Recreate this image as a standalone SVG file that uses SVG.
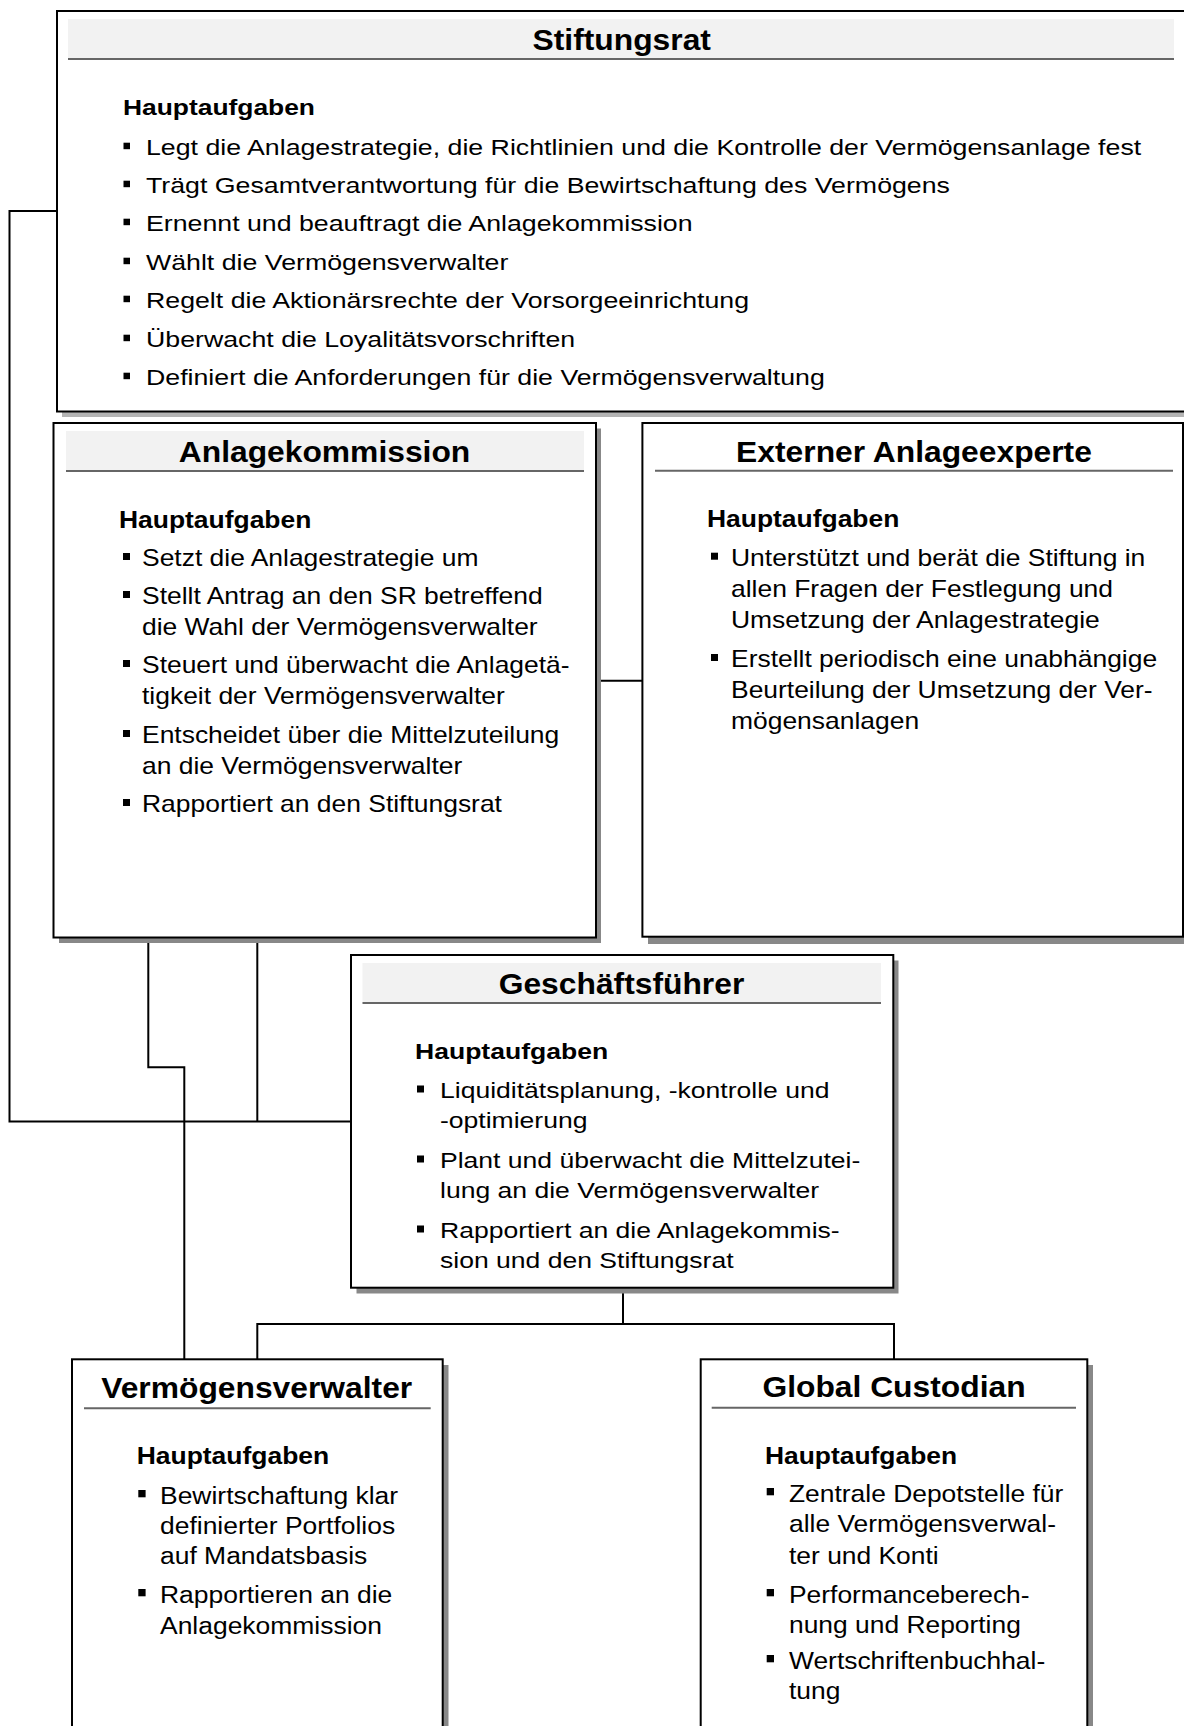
<svg xmlns="http://www.w3.org/2000/svg" width="1184" height="1726" viewBox="0 0 1184 1726">
<style>
text{font-family:"Liberation Sans",Arial,Helvetica,sans-serif;fill:#000}
.box{fill:#fff;stroke:#000;stroke-width:2}
.sh{fill:#888}
.shl{fill:#b4b4b4}
.band{fill:#f2f2f2}
.hl{stroke:#666;stroke-width:2}
.ttl{font-weight:bold;font-size:30px;text-anchor:middle}
.hd{font-weight:bold}
.bl{fill:#000}
.con{fill:none;stroke:#000;stroke-width:2}
</style>
<rect width="1184" height="1726" fill="#fff"/>

<g id="connectors">
<path class="con" d="M57,211 H9.5 V1121.5 H351"/>
<path class="con" d="M148.3,937.5 V1067.3 H184.3 V1359.3"/>
<path class="con" d="M257.3,937.5 V1121.5"/>
<path class="con" d="M596,680.7 H642.4"/>
<path class="con" d="M623,1287.7 V1324"/>
<path class="con" d="M257.3,1359.3 V1324 H894 V1359.3"/>
</g>

<g id="stiftungsrat">
<rect class="shl" x="62" y="412" width="1130" height="5"/>
<rect class="box" x="57" y="11" width="1140" height="400.5"/>
<rect class="band" x="68" y="19" width="1106" height="40"/>
<line class="hl" x1="68" y1="59" x2="1174" y2="59"/>
<text class="ttl" transform="translate(621.7,50) scale(1.06,1)">Stiftungsrat</text>
<g style="font-size:22px">
<text class="hd" transform="translate(123,115) scale(1.2,1)">Hauptaufgaben</text>
<rect class="bl" x="123.5" y="142.7" width="6.5" height="6.5"/>
<text transform="translate(146,155) scale(1.215,1)">Legt die Anlagestrategie, die Richtlinien und die Kontrolle der Vermögensanlage fest</text>
<rect class="bl" x="123.5" y="180.7" width="6.5" height="6.5"/>
<text transform="translate(146,193) scale(1.215,1)">Trägt Gesamtverantwortung für die Bewirtschaftung des Vermögens</text>
<rect class="bl" x="123.5" y="218.7" width="6.5" height="6.5"/>
<text transform="translate(146,231) scale(1.215,1)">Ernennt und beauftragt die Anlagekommission</text>
<rect class="bl" x="123.5" y="257.7" width="6.5" height="6.5"/>
<text transform="translate(146,270) scale(1.215,1)">Wählt die Vermögensverwalter</text>
<rect class="bl" x="123.5" y="295.7" width="6.5" height="6.5"/>
<text transform="translate(146,308) scale(1.215,1)">Regelt die Aktionärsrechte der Vorsorgeeinrichtung</text>
<rect class="bl" x="123.5" y="334.7" width="6.5" height="6.5"/>
<text transform="translate(146,347) scale(1.215,1)">Überwacht die Loyalitätsvorschriften</text>
<rect class="bl" x="123.5" y="372.7" width="6.5" height="6.5"/>
<text transform="translate(146,385) scale(1.215,1)">Definiert die Anforderungen für die Vermögensverwaltung</text>
</g>
</g>

<g id="anlagekommission">
<rect class="sh" x="59" y="428.5" width="542" height="514.5"/>
<rect class="box" x="53.5" y="423" width="542.5" height="514.5"/>
<rect class="band" x="66" y="431" width="518" height="40"/>
<line class="hl" x1="66" y1="471" x2="584" y2="471"/>
<text class="ttl" transform="translate(324.5,461.7) scale(1.06,1)">Anlagekommission</text>
<g style="font-size:23px">
<text class="hd" transform="translate(119,527.7) scale(1.15,1)">Hauptaufgaben</text>
<rect class="bl" x="123" y="553" width="7" height="7"/>
<text transform="translate(142,566) scale(1.15,1)">Setzt die Anlagestrategie um</text>
<rect class="bl" x="123" y="591" width="7" height="7"/>
<text transform="translate(142,604) scale(1.15,1)">Stellt Antrag an den SR betreffend</text>
<text transform="translate(142,635) scale(1.15,1)">die Wahl der Vermögensverwalter</text>
<rect class="bl" x="123" y="660" width="7" height="7"/>
<text transform="translate(142,673) scale(1.15,1)">Steuert und überwacht die Anlagetä-</text>
<text transform="translate(142,704) scale(1.15,1)">tigkeit der Vermögensverwalter</text>
<rect class="bl" x="123" y="730" width="7" height="7"/>
<text transform="translate(142,743) scale(1.15,1)">Entscheidet über die Mittelzuteilung</text>
<text transform="translate(142,774) scale(1.15,1)">an die Vermögensverwalter</text>
<rect class="bl" x="123" y="799" width="7" height="7"/>
<text transform="translate(142,812) scale(1.15,1)">Rapportiert an den Stiftungsrat</text>
</g>
</g>

<g id="externer-anlageexperte">
<rect class="sh" x="648" y="428.5" width="545" height="515.5"/>
<rect class="box" x="642.4" y="423" width="540.6" height="513.7"/>
<line class="hl" x1="655" y1="470.7" x2="1173" y2="470.7"/>
<text class="ttl" transform="translate(914,461.7) scale(1.06,1)">Externer Anlageexperte</text>
<g style="font-size:23px">
<text class="hd" transform="translate(707,527) scale(1.15,1)">Hauptaufgaben</text>
<rect class="bl" x="711" y="552.7" width="7" height="7"/>
<text transform="translate(731,565.7) scale(1.15,1)">Unterstützt und berät die Stiftung in</text>
<text transform="translate(731,597) scale(1.15,1)">allen Fragen der Festlegung und</text>
<text transform="translate(731,628) scale(1.15,1)">Umsetzung der Anlagestrategie</text>
<rect class="bl" x="711" y="654" width="7" height="7"/>
<text transform="translate(731,667) scale(1.15,1)">Erstellt periodisch eine unabhängige</text>
<text transform="translate(731,698) scale(1.15,1)">Beurteilung der Umsetzung der Ver-</text>
<text transform="translate(731,729) scale(1.15,1)">mögensanlagen</text>
</g>
</g>

<g id="geschaeftsfuehrer">
<rect class="sh" x="356.5" y="960.5" width="542" height="333"/>
<rect class="box" x="351" y="955" width="542.3" height="332.7"/>
<rect class="band" x="362.5" y="963" width="518.5" height="40"/>
<line class="hl" x1="362.5" y1="1003" x2="881" y2="1003"/>
<text class="ttl" transform="translate(621.5,994) scale(1.06,1)">Geschäftsführer</text>
<g style="font-size:22.5px">
<text class="hd" transform="translate(415,1059.3) scale(1.18,1)">Hauptaufgaben</text>
<rect class="bl" x="417" y="1085.5" width="7" height="7"/>
<text transform="translate(440,1098.3) scale(1.18,1)">Liquiditätsplanung, -kontrolle und</text>
<text transform="translate(440,1128.3) scale(1.18,1)">-optimierung</text>
<rect class="bl" x="417" y="1155.5" width="7" height="7"/>
<text transform="translate(440,1168.3) scale(1.18,1)">Plant und überwacht die Mittelzutei-</text>
<text transform="translate(440,1198.3) scale(1.18,1)">lung an die Vermögensverwalter</text>
<rect class="bl" x="417" y="1225.5" width="7" height="7"/>
<text transform="translate(440,1238.3) scale(1.18,1)">Rapportiert an die Anlagekommis-</text>
<text transform="translate(440,1267.5) scale(1.18,1)">sion und den Stiftungsrat</text>
</g>
</g>

<g id="vermoegensverwalter">
<rect class="sh" x="77.5" y="1365" width="371" height="380"/>
<rect class="box" x="72" y="1359.3" width="370.7" height="380"/>
<line class="hl" x1="84" y1="1408.3" x2="430.7" y2="1408.3"/>
<text class="ttl" transform="translate(256.7,1398.3) scale(1.06,1)">Vermögensverwalter</text>
<g style="font-size:24.5px">
<text class="hd" transform="translate(136.7,1464) scale(1.08,1)">Hauptaufgaben</text>
<rect class="bl" x="138.3" y="1490" width="7.3" height="7.3"/>
<text transform="translate(160,1504.3) scale(1.08,1)">Bewirtschaftung klar</text>
<text transform="translate(160,1533.5) scale(1.08,1)">definierter Portfolios</text>
<text transform="translate(160,1564) scale(1.08,1)">auf Mandatsbasis</text>
<rect class="bl" x="138.3" y="1589" width="7.3" height="7.3"/>
<text transform="translate(160,1603.3) scale(1.08,1)">Rapportieren an die</text>
<text transform="translate(160,1634) scale(1.08,1)">Anlagekommission</text>
</g>
</g>

<g id="global-custodian">
<rect class="sh" x="706" y="1365" width="387" height="380"/>
<rect class="box" x="700.7" y="1359.3" width="386.6" height="380"/>
<line class="hl" x1="711.7" y1="1407.7" x2="1076" y2="1407.7"/>
<text class="ttl" transform="translate(894,1397.3) scale(1.06,1)">Global Custodian</text>
<g style="font-size:24px">
<text class="hd" transform="translate(765,1464) scale(1.1,1)">Hauptaufgaben</text>
<rect class="bl" x="766.7" y="1488" width="7.3" height="7.3"/>
<text transform="translate(789,1502.3) scale(1.1,1)">Zentrale Depotstelle für</text>
<text transform="translate(789,1532.3) scale(1.1,1)">alle Vermögensverwal-</text>
<text transform="translate(789,1564) scale(1.1,1)">ter und Konti</text>
<rect class="bl" x="766.7" y="1589" width="7.3" height="7.3"/>
<text transform="translate(789,1603.3) scale(1.1,1)">Performanceberech-</text>
<text transform="translate(789,1633.3) scale(1.1,1)">nung und Reporting</text>
<rect class="bl" x="766.7" y="1655" width="7.3" height="7.3"/>
<text transform="translate(789,1669.3) scale(1.1,1)">Wertschriftenbuchhal-</text>
<text transform="translate(789,1699.3) scale(1.1,1)">tung</text>
</g>
</g>
</svg>
